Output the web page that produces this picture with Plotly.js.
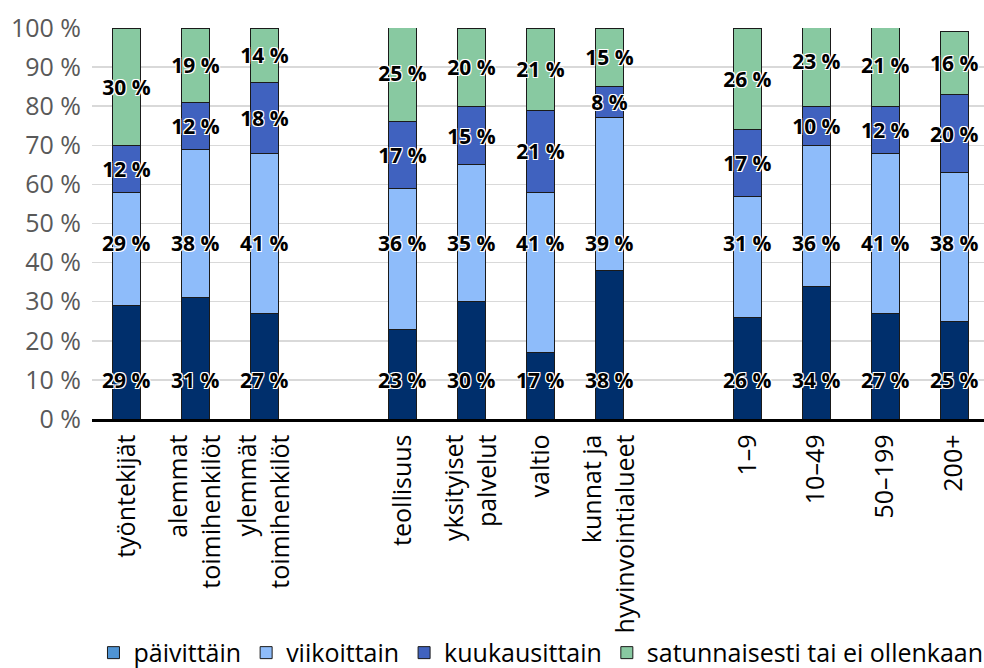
<!DOCTYPE html>
<html>
<head>
<meta charset="utf-8">
<script src="https://cdn.plot.ly/plotly-3.0.1.min.js"></script>
<style>html,body{margin:0;padding:0;background:#fff;}#chart{width:984px;height:668px;}</style>
</head>
<body>
<div id="chart"></div>
<script>
// Categories (blank entries are the gaps between groups)
const CATEGORIES = ['työntekijät', 'alemmat<br>toimihenkilöt', 'ylemmät<br>toimihenkilöt', ' ',
  'teollisuus', 'yksityiset<br>palvelut', 'valtio', 'kunnat ja<br>hyvinvointialueet', '  ',
  '1–9', '10–49', '50–199', '200+'];

// Series values (%)
const DAILY   = [29, 31, 27, null, 23, 30, 17, 38, null, 26, 34, 27, 25];
const WEEKLY  = [29, 38, 41, null, 36, 35, 41, 39, null, 31, 36, 41, 38];
const MONTHLY = [12, 12, 18, null, 17, 15, 21,  8, null, 17, 10, 12, 20];
const RARELY  = [30, 19, 14, null, 25, 20, 21, 15, null, 26, 23, 21, 16];

const SERIES_NAMES = ['päivittäin', 'viikoittain', 'kuukausittain', 'satunnaisesti tai ei ollenkaan'];
const Y_TICKS = [0, 10, 20, 30, 40, 50, 60, 70, 80, 90, 100];
const Y_TICK_LABELS = ['0 %', '10 %', '20 %', '30 %', '40 %', '50 %', '60 %', '70 %', '80 %', '90 %', '100 %'];

// Styling
const COLORS = ['#002f6c', '#8ebcfa', '#4062bf', '#88c9a1'];
const LEGEND_DAILY_COLOR = '#4f94d4';
const LABEL_Y_DAILY = 10;   // fixed label height used in the original for the bottom series
const LABEL_Y_WEEKLY = 45;  // fixed label height used in the original for the second series
const HALO = 'white 1px 1px 0px, white -1px -1px 0px, white 1px -1px 0px, white -1px 1px 0px';
const LABEL_FONT = {family: 'Open Sans, sans-serif', size: 21, color: '#000', weight: 'bold', shadow: HALO};

const fmt = v => (v == null ? '' : v + ' %');
const outline = {color: '#1a1a1a', width: 1};

const traces = [
  {type: 'bar', name: SERIES_NAMES[0], x: CATEGORIES, y: DAILY, showlegend: false,
   marker: {color: COLORS[0], line: outline}, hoverinfo: 'x+y'},
  {type: 'bar', name: SERIES_NAMES[0], x: [CATEGORIES[0]], y: [null], legendrank: 1,
   marker: {color: LEGEND_DAILY_COLOR, line: outline}},
  {type: 'bar', name: SERIES_NAMES[1], x: CATEGORIES, y: WEEKLY, legendrank: 2,
   marker: {color: COLORS[1], line: outline}},
  {type: 'bar', name: SERIES_NAMES[2], x: CATEGORIES, y: MONTHLY, legendrank: 3,
   marker: {color: COLORS[2], line: outline},
   text: MONTHLY.map(fmt), textposition: 'inside', insidetextanchor: 'middle',
   textangle: 0, constraintext: 'none', insidetextfont: LABEL_FONT},
  {type: 'bar', name: SERIES_NAMES[3], x: CATEGORIES, y: RARELY, legendrank: 4,
   marker: {color: COLORS[3], line: outline},
   text: RARELY.map(fmt), textposition: 'inside', insidetextanchor: 'middle',
   textangle: 0, constraintext: 'none', insidetextfont: LABEL_FONT}
];

const annotations = [];
CATEGORIES.forEach((c, i) => {
  if (DAILY[i] != null) annotations.push({x: c, y: LABEL_Y_DAILY, text: fmt(DAILY[i]), showarrow: false, font: LABEL_FONT});
  if (WEEKLY[i] != null) annotations.push({x: c, y: LABEL_Y_WEEKLY, text: fmt(WEEKLY[i]), showarrow: false, font: LABEL_FONT});
});

const layout = {
  width: 984, height: 668,
  margin: {l: 92, r: 0, t: 28, b: 249, autoexpand: false},
  paper_bgcolor: '#fff', plot_bgcolor: '#fff',
  barmode: 'stack', bargap: 0.6,
  font: {family: 'Open Sans, sans-serif', color: '#000'},
  xaxis: {
    type: 'category', range: [-0.5, 12.43], tickangle: -90,
    tickfont: {family: 'Open Sans, sans-serif', size: 25, color: '#000'},
    showline: true, linecolor: '#000', linewidth: 2.5, ticks: '', showgrid: false,
    ticklabelstandoff: 3, fixedrange: true
  },
  yaxis: {
    range: [0, 100], tickmode: 'array', tickvals: Y_TICKS, ticktext: Y_TICK_LABELS,
    tickfont: {family: 'Open Sans, sans-serif', size: 25, color: '#595959'},
    showgrid: true, gridcolor: '#d9d9d9', gridwidth: 1.5, zeroline: false,
    showline: false, ticks: '', ticklabelstandoff: 10, fixedrange: true
  },
  legend: {
    orientation: 'h', xref: 'container', yref: 'paper',
    x: 0.095, xanchor: 'left', y: -0.657, yanchor: 'bottom',
    bgcolor: 'rgba(0,0,0,0)',
    font: {family: 'Open Sans, sans-serif', size: 25, color: '#000'},
    traceorder: 'normal'
  },
  annotations: annotations
};

Plotly.newPlot('chart', traces, layout, {displayModeBar: false, staticPlot: true});
</script>
</body>
</html>
